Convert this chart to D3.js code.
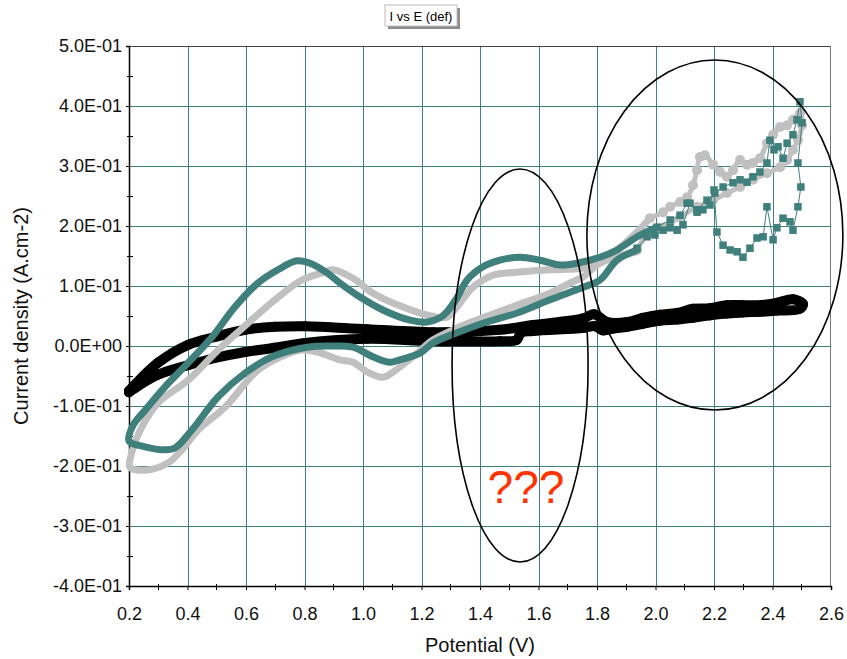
<!DOCTYPE html>
<html>
<head>
<meta charset="utf-8">
<script src="https://cdn.jsdelivr.net/npm/d3@7"></script>
<style>
  body { margin: 0; background: #fff; }
  #T { width: 847px; height: 659px; }
  text { font-family: "Liberation Sans", Arial, sans-serif; }
</style>
</head>
<body>
<div id="T"></div>
<script>
// tick values
const xTicks = [0.2, 0.4, 0.6, 0.8, 1.0, 1.2, 1.4, 1.6, 1.8, 2.0, 2.2, 2.4, 2.6];
const yTicks = [-0.4, -0.3, -0.2, -0.1, 0.0, 0.1, 0.2, 0.3, 0.4, 0.5];

// black series (circles)
const blackV = [0.200, 0.299, 0.402, 0.494, 0.597, 0.699, 0.802, 1.014, 1.239, 1.468, 1.581, 1.752,
  1.790, 1.835, 1.903, 1.957, 2.015, 2.074, 2.128, 2.186, 2.244, 2.299, 2.357, 2.415, 2.470, 2.504,
  2.494, 2.415, 2.357, 2.299, 2.244, 2.186, 2.128, 2.074, 2.015, 1.957, 1.903, 1.855, 1.821, 1.793, 1.752,
  1.581, 1.540, 1.525, 1.468, 1.239, 1.014, 0.802, 0.699, 0.597, 0.494, 0.402, 0.299, 0.221, 0.200];
const blackI = [-0.075, -0.028, 0.002, 0.015, 0.027, 0.032, 0.033, 0.028, 0.023, 0.027, 0.035, 0.046,
  0.053, 0.040, 0.040, 0.047, 0.052, 0.055, 0.062, 0.063, 0.068, 0.068, 0.068, 0.072, 0.078, 0.070,
  0.062, 0.059, 0.057, 0.056, 0.054, 0.051, 0.047, 0.044, 0.042, 0.037, 0.032, 0.029, 0.026, 0.033, 0.030,
  0.025, 0.022, 0.010, 0.008, 0.008, 0.012, 0.005, -0.003, -0.010, -0.020, -0.032, -0.048, -0.070, -0.077];

// grey series (circles) - smooth loop part
const grayLoopV = [1.937, 1.855, 1.800, 1.752, 1.708, 1.639, 1.526, 1.410, 1.321, 1.239, 1.185, 1.126,
  1.068, 1.014, 0.966, 0.921, 0.843, 0.785, 0.733, 0.641, 0.528, 0.436, 0.381, 0.333, 0.255, 0.203,
  0.207, 0.244, 0.299, 0.402, 0.504, 0.607, 0.699, 0.791, 0.860, 0.897, 0.966, 1.034, 1.137, 1.219,
  1.287, 1.321, 1.376, 1.444, 1.526, 1.639, 1.752, 1.810, 1.868, 1.937, 1.981];
const grayLoopI = [0.157, 0.147, 0.135, 0.115, 0.105, 0.088, 0.068, 0.047, 0.030, 0.010, -0.012, -0.035,
  -0.052, -0.043, -0.027, -0.023, -0.010, -0.007, -0.015, -0.040, -0.102, -0.140, -0.173, -0.195, -0.207, -0.202,
  -0.182, -0.135, -0.095, -0.057, -0.007, 0.038, 0.077, 0.110, 0.122, 0.127, 0.113, 0.088, 0.065, 0.052,
  0.048, 0.065, 0.098, 0.118, 0.123, 0.127, 0.130, 0.140, 0.160, 0.190, 0.213];
// grey series - noisy high potential part
const grayTailV = [1.981, 2.026, 2.050, 2.084, 2.108, 2.128, 2.142, 2.152, 2.169, 2.197, 2.221, 2.244,
  2.265, 2.289, 2.313, 2.333, 2.357, 2.381, 2.402, 2.426, 2.450, 2.470, 2.494,
  2.501, 2.487, 2.470, 2.450, 2.426, 2.381, 2.333, 2.289, 2.244, 2.197, 2.142, 2.084, 2.026, 1.971, 1.937];
const grayTailI = [0.213, 0.223, 0.232, 0.240, 0.248, 0.268, 0.293, 0.315, 0.318, 0.302, 0.290, 0.282,
  0.293, 0.310, 0.302, 0.305, 0.313, 0.338, 0.352, 0.365, 0.368, 0.377, 0.388,
  0.368, 0.343, 0.327, 0.310, 0.298, 0.288, 0.277, 0.265, 0.255, 0.243, 0.232, 0.215, 0.198, 0.185, 0.160];

// teal series (squares) - smooth loop part
const tealLoopV = [1.937, 1.868, 1.810, 1.752, 1.639, 1.526, 1.410, 1.321, 1.239, 1.195, 1.126, 1.092,
  1.034, 0.966, 0.897, 0.809, 0.689, 0.597, 0.504, 0.415, 0.357, 0.323, 0.255, 0.200,
  0.214, 0.255, 0.323, 0.402, 0.484, 0.562, 0.641, 0.709, 0.774, 0.819, 0.877, 0.921, 0.979, 1.068,
  1.161, 1.219, 1.263, 1.287, 1.321, 1.356, 1.410, 1.468, 1.537, 1.605, 1.674, 1.732, 1.810, 1.868,
  1.937, 2.005];
const tealLoopI = [0.160, 0.143, 0.110, 0.098, 0.077, 0.055, 0.038, 0.022, 0.005, -0.012, -0.023, -0.027,
  -0.018, -0.002, 0.000, -0.002, -0.018, -0.045, -0.085, -0.140, -0.170, -0.173, -0.168, -0.158,
  -0.132, -0.107, -0.068, -0.028, 0.015, 0.065, 0.105, 0.127, 0.142, 0.138, 0.122, 0.105, 0.085, 0.060,
  0.043, 0.040, 0.047, 0.057, 0.080, 0.110, 0.132, 0.143, 0.148, 0.143, 0.135, 0.138, 0.148, 0.160,
  0.182, 0.198];
// teal series - noisy high potential part
const tealTailV = [2.005, 2.050, 2.084, 2.108, 2.142, 2.176, 2.203, 2.231, 2.265, 2.289, 2.313, 2.333,
  2.357, 2.381, 2.391, 2.405, 2.419, 2.436, 2.450, 2.470, 2.484, 2.494,
  2.501, 2.487, 2.497, 2.487, 2.470, 2.460, 2.436, 2.415, 2.402, 2.381, 2.368, 2.347, 2.323, 2.299,
  2.279, 2.255, 2.231, 2.210, 2.200, 2.186, 2.162, 2.142, 2.118, 2.094, 2.074, 2.050, 2.026, 1.998,
  1.971, 1.937];
const tealTailI = [0.198, 0.210, 0.218, 0.238, 0.227, 0.243, 0.255, 0.265, 0.272, 0.277, 0.273, 0.282,
  0.290, 0.305, 0.343, 0.327, 0.332, 0.313, 0.338, 0.352, 0.377, 0.407,
  0.372, 0.305, 0.265, 0.232, 0.193, 0.207, 0.213, 0.197, 0.177, 0.232, 0.182, 0.180, 0.163, 0.148,
  0.157, 0.160, 0.168, 0.190, 0.260, 0.235, 0.227, 0.223, 0.238, 0.202, 0.193, 0.197, 0.193, 0.185,
  0.182, 0.163];

// hand drawn annotations (data units)
const ellipses = [
  { v: 1.537, i: -0.0325, rv: 0.2325, ri: 0.3275 },
  { v: 2.203, i: 0.185, rv: 0.4376, ri: 0.2917 }
];
const noteText = "???";

const zip = (a, b) => a.map((d, k) => [d, b[k]]);

const parent = d3.select('#T');
const width = 847, height = 659;
const SVG = parent.append('svg').attr("width", width).attr("height", height);

const x = d3.scaleLinear().domain([0.2, 2.6]).range([129, 831]);
const y = d3.scaleLinear().domain([-0.4, 0.5]).range([586, 46]);

const grid = "#3f8080";

// title box
SVG.append("rect").attr("x", 388).attr("y", 8).attr("width", 72).attr("height", 21).attr("fill", "#8c8c8c");
SVG.append("rect").attr("x", 385).attr("y", 5).attr("width", 72).attr("height", 21)
  .attr("fill", "#fff").attr("stroke", "#bbb").attr("stroke-width", 1);
SVG.append("text").attr("x", 421).attr("y", 21).attr("text-anchor", "middle")
  .style("font-size", "13px").text("I vs E (def)");

// grid
SVG.append("g").attr("transform", "translate(0,586)")
  .call(d3.axisBottom(x).tickValues(xTicks.slice(1, -1)).tickSize(-540).tickFormat(""))
  .call(g => g.select(".domain").remove())
  .call(g => g.selectAll("line").attr("stroke", grid).attr("shape-rendering", "crispEdges"));
SVG.append("g").attr("transform", "translate(129,0)")
  .call(d3.axisLeft(y).tickValues(yTicks.slice(1, -1)).tickSize(-702).tickFormat(""))
  .call(g => g.select(".domain").remove())
  .call(g => g.selectAll("line").attr("stroke", grid).attr("shape-rendering", "crispEdges"));

// frame top / right
SVG.append("line").attr("x1", 129).attr("x2", 831).attr("y1", 46.5).attr("y2", 46.5).attr("stroke", "#444");
SVG.append("line").attr("x1", 830.5).attr("x2", 830.5).attr("y1", 46).attr("y2", 586).attr("stroke", "#777");

// scientific format like 5.0E-01
function sci(v) {
  if (Math.abs(v) < 1e-9) return "0.0E+00";
  const e = Math.floor(Math.log10(Math.abs(v)) + 1e-9);
  const m = v / Math.pow(10, e);
  return m.toFixed(1) + "E" + (e < 0 ? "-" : "+") + String(Math.abs(e)).padStart(2, "0");
}

// axes
const xAxis = SVG.append("g").attr("transform", "translate(0,586)")
  .call(d3.axisBottom(x).tickValues(xTicks).tickSize(4).tickPadding(17).tickFormat(d3.format(".1f")));
xAxis.selectAll("text").style("font-size", "18px").attr("fill", "#111");
xAxis.select(".domain").attr("stroke", "#000").attr("stroke-width", 1.5);
// minor ticks on x
SVG.append("g").selectAll("line").data(d3.range(3, 26, 2).map(d => d / 10)).join("line")
  .attr("x1", d => x(d)).attr("x2", d => x(d)).attr("y1", 584).attr("y2", 590)
  .attr("stroke", "#000").attr("shape-rendering", "crispEdges");

const yAxis = SVG.append("g").attr("transform", "translate(129,0)")
  .call(d3.axisLeft(y).tickValues(yTicks).tickSize(3).tickPadding(4).tickFormat(sci));
yAxis.selectAll("text").style("font-size", "18px").attr("fill", "#111");
yAxis.select(".domain").attr("stroke", "#000").attr("stroke-width", 1.5);
SVG.append("g").selectAll("line").data(d3.range(-35, 50, 10).map(d => d / 100)).join("line")
  .attr("x1", 127).attr("x2", 133).attr("y1", d => y(d)).attr("y2", d => y(d))
  .attr("stroke", "#000").attr("shape-rendering", "crispEdges");

// axis titles
SVG.append("text").attr("x", 480).attr("y", 652).attr("text-anchor", "middle")
  .style("font-size", "20px").attr("fill", "#111").text("Potential (V)");
SVG.append("text").attr("transform", "translate(28,316) rotate(-90)").attr("text-anchor", "middle")
  .style("font-size", "20px").attr("fill", "#111").text("Current density (A.cm-2)");

// series
const line = d3.line().x(d => x(d[0])).y(d => y(d[1])).curve(d3.curveCatmullRom.alpha(0.5));
const plot = SVG.append("g");

function band(pts, color, w) {
  plot.append("path").datum(pts).attr("d", line).attr("fill", "none")
    .attr("stroke", color).attr("stroke-width", w)
    .attr("stroke-linejoin", "round").attr("stroke-linecap", "round");
}
function circles(pts, color, r) {
  plot.append("g").selectAll("circle").data(pts).join("circle")
    .attr("cx", d => x(d[0])).attr("cy", d => y(d[1])).attr("r", r).attr("fill", color);
}
function squares(pts, color, s) {
  plot.append("g").selectAll("rect").data(pts).join("rect")
    .attr("x", d => x(d[0]) - s / 2).attr("y", d => y(d[1]) - s / 2)
    .attr("width", s).attr("height", s).attr("fill", color);
}

const black = zip(blackV, blackI);
band(black, "#000", 10);
circles(black, "#000", 5);

const grayLoop = zip(grayLoopV, grayLoopI), grayTail = zip(grayTailV, grayTailI);
band(grayLoop, "#c0c0c0", 7);
band(grayTail, "#c0c0c0", 5);
circles(grayTail, "#c0c0c0", 5);

const teal = "#3f7f7c";
const tealLoop = zip(tealLoopV, tealLoopI), tealTail = zip(tealTailV, tealTailI);
band(tealLoop, teal, 7);
plot.append("path").datum(tealTail).attr("d", d3.line().x(d => x(d[0])).y(d => y(d[1])))
  .attr("fill", "none").attr("stroke", teal).attr("stroke-width", 1);
squares(tealTail, teal, 7.5);

// annotations
SVG.append("g").selectAll("ellipse").data(ellipses).join("ellipse")
  .attr("cx", d => x(d.v)).attr("cy", d => y(d.i))
  .attr("rx", d => x(d.v + d.rv) - x(d.v)).attr("ry", d => y(d.i - d.ri) - y(d.i))
  .attr("fill", "none").attr("stroke", "#000").attr("stroke-width", 1.6);
SVG.append("text").attr("x", x(1.557)).attr("y", y(-0.262)).attr("text-anchor", "middle")
  .style("font-size", "46px").attr("fill", "#ff3300").text(noteText);
</script>
</body>
</html>
